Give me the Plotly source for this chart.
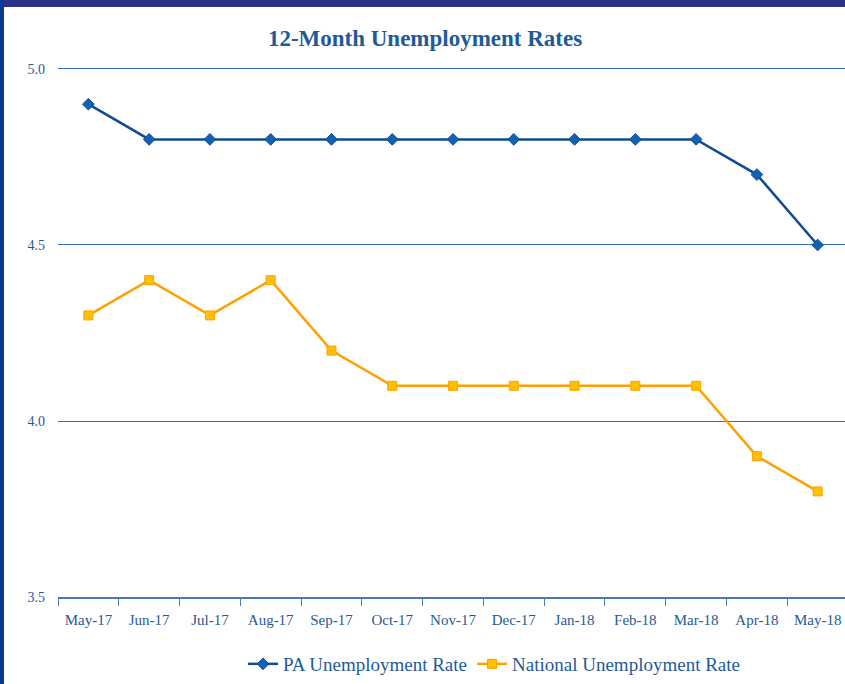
import plotly.graph_objects as go

months = ["May-17", "Jun-17", "Jul-17", "Aug-17", "Sep-17", "Oct-17", "Nov-17",
          "Dec-17", "Jan-18", "Feb-18", "Mar-18", "Apr-18", "May-18"]
pa_rate = [4.9, 4.8, 4.8, 4.8, 4.8, 4.8, 4.8, 4.8, 4.8, 4.8, 4.8, 4.7, 4.5]
national_rate = [4.3, 4.4, 4.3, 4.4, 4.2, 4.1, 4.1, 4.1, 4.1, 4.1, 4.1, 3.9, 3.8]
y_ticks = [3.5, 4.0, 4.5, 5.0]
y_tick_text = ["3.5", "4.0", "4.5", "5.0"]

W, H = 845, 684
ML, MR, MT, MB = 58, 0, 66, 87
pw = W - ML - MR
ph = H - MT - MB

font_family = "Liberation Serif, DejaVu Serif, serif"
text_blue = "#1F5A99"

fig = go.Figure()
fig.add_trace(go.Scatter(
    x=months, y=pa_rate, name="PA Unemployment Rate", mode="lines+markers",
    line=dict(color="#0F4C91", width=2.5),
    marker=dict(symbol="diamond", size=9, color="#1261B5", line=dict(color="#0F4C91", width=1)),
))
fig.add_trace(go.Scatter(
    x=months, y=national_rate, name="National Unemployment Rate", mode="lines+markers",
    line=dict(color="#FFA000", width=2.5),
    marker=dict(symbol="square", size=9, color="#FFC000", line=dict(color="#FFA000", width=1)),
))

def px_x(x):
    return (x - ML) / pw

def px_y(y):
    return (H - MB - y) / ph

shapes = [
    dict(type="rect", xref="paper", yref="paper", x0=px_x(0), x1=px_x(W), y0=px_y(7), y1=px_y(0),
         fillcolor="#2B3186", line=dict(width=0), layer="above"),
    dict(type="rect", xref="paper", yref="paper", x0=px_x(0), x1=px_x(4), y0=px_y(H), y1=px_y(0),
         fillcolor="#0A3A8C", line=dict(width=0), layer="above"),
]

fig.update_layout(
    width=W, height=H,
    margin=dict(l=ML, r=MR, t=MT, b=MB, autoexpand=False),
    paper_bgcolor="white", plot_bgcolor="white",
    title=dict(text="<b>12-Month Unemployment Rates</b>", x=0.503, xanchor="center",
               y=1 - 38 / H, yanchor="middle",
               font=dict(family=font_family, size=23, color=text_blue)),
    font=dict(family=font_family, color=text_blue, size=15),
    showlegend=True,
    legend=dict(orientation="h", x=px_x(494), xanchor="center", y=px_y(664), yanchor="middle",
                bgcolor="rgba(0,0,0,0)",
                font=dict(size=19, color=text_blue), itemwidth=30, tracegroupgap=0),
    xaxis=dict(type="category", range=[-0.5, 12.45], showgrid=False,
               showline=True, linecolor="#4A78B5", linewidth=1.5,
               ticks="outside", tickson="boundaries", ticklen=7, tickcolor="#4A78B5",
               ticklabelstandoff=8,
               tickfont=dict(size=15, color=text_blue), fixedrange=True),
    yaxis=dict(range=[3.5, 5.0085], tickvals=y_ticks, ticktext=y_tick_text,
               showgrid=True, gridcolor="#3070B8", gridwidth=1, zeroline=False,
               showline=False, ticks="", ticklabelstandoff=12,
               tickfont=dict(size=14, color=text_blue), fixedrange=True),
    shapes=shapes,
)

fig.write_html("out.html", config={"displayModeBar": False},
               post_script="document.body.style.margin='0';document.body.style.overflow='hidden';")
